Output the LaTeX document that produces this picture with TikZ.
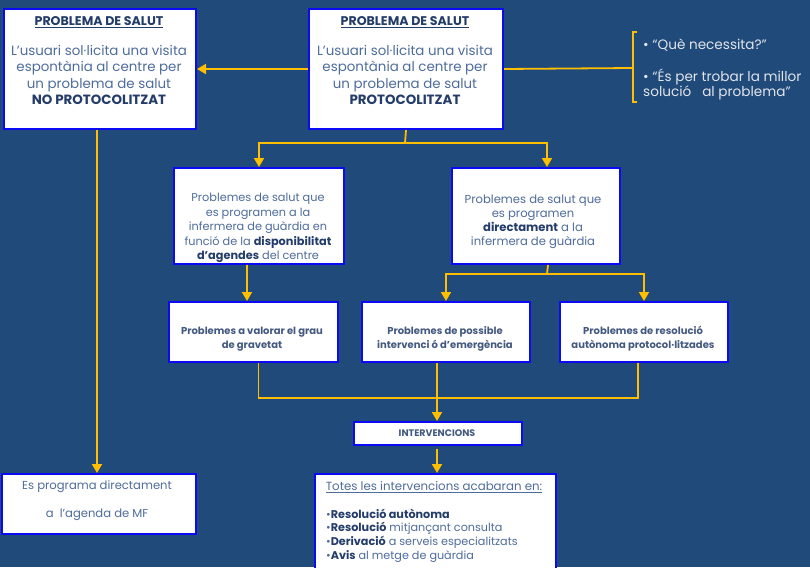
\documentclass[tikz,border=0pt]{standalone}
\usepackage{fontspec}
\setmainfont{Poppins}
\usetikzlibrary{arrows.meta}
\definecolor{bg}{RGB}{32,74,122}
\definecolor{gold}{RGB}{255,190,0}
\definecolor{bord}{RGB}{10,10,245}
\definecolor{txt}{RGB}{78,108,155}
\definecolor{dtxt}{RGB}{35,60,105}
\definecolor{ltxt}{RGB}{225,228,235}
\begin{document}
\begin{tikzpicture}[x=1pt,y=-1pt,
  box/.style={draw=bord, line width=2pt, fill=white, anchor=north west, inner sep=0pt},
  conn/.style={draw=gold, line width=1.8pt},
  arr/.style={conn, -{Triangle[width=10pt,length=9pt]}},
  lbl/.style={text=txt, align=center, inner sep=0pt, font=\fontsize{13.4}{16.5}\selectfont},
  ttl/.style={text=dtxt, align=center, inner sep=0pt, font=\fontsize{12.6}{14}\selectfont\bfseries},
  sml/.style={text=dtxt!85!white, align=center, inner sep=0pt, font=\fontsize{10}{14}\selectfont\bfseries},
  note/.style={text=ltxt, align=left, inner sep=0pt, anchor=west, font=\fontsize{13.6}{15.5}\selectfont}
]
\fill[bg] (0,0) rectangle (810,567);
\useasboundingbox (0,0) rectangle (810,567);

% boxes
\node[box, minimum width=192pt, minimum height=120pt] (b1) at (3,8) {};
\node[box, minimum width=194pt, minimum height=120pt] (b2) at (308,8) {};
\node[box, minimum width=170pt, minimum height=96pt] (b3) at (173,167) {};
\node[box, minimum width=168pt, minimum height=96pt] (b4) at (451,167) {};
\node[box, minimum width=169pt, minimum height=60pt] (b5) at (168,301) {};
\node[box, minimum width=168pt, minimum height=60pt] (b6) at (361,301) {};
\node[box, minimum width=168pt, minimum height=60pt] (b7) at (559,301) {};
\node[box, minimum width=168pt, minimum height=23pt] (b8) at (353,421) {};
\node[box, minimum width=194pt, minimum height=60pt] (b9) at (1,473) {};
\node[box, minimum width=241pt, minimum height=100pt] (b10) at (314,473) {};

% texts
\node[ttl] (t1a) at (99,22) {\underline{PROBLEMA DE SALUT}};
\node[lbl] (t1b) at (99,75) {L’usuari sol·licita una visita\\espontània al centre per\\un problema de salut\\{\color{dtxt}\bfseries NO PROTOCOLITZAT}};
\node[ttl] (t2a) at (405,22) {\underline{PROBLEMA DE SALUT}};
\node[lbl] (t2b) at (405,75) {L’usuari sol·licita una visita\\espontània al centre per\\un problema de salut\\{\color{dtxt}\bfseries PROTOCOLITZAT}};
\node[lbl, font=\fontsize{11.3}{14.5}\selectfont] (t3) at (258,228) {Problemes de salut que\\es programen a la\\infermera de guàrdia en\\funció de la {\color{dtxt}\bfseries disponibilitat}\\{\color{dtxt}\bfseries d’agendes} del centre};
\node[lbl, font=\fontsize{11.6}{14}\selectfont] (t4) at (533,222) {Problemes de salut que\\es programen\\{\color{dtxt}\bfseries directament} a la\\infermera de guàrdia};
\node[sml] (t5) at (252,339) {Problemes a valorar el grau\\de  gravetat};
\node[sml] (t6) at (445,339) {Problemes de possible\\intervenci ó d’emergència};
\node[sml] (t7) at (643,339) {Problemes de resolució\\autònoma  protocol·litzades};
\node[sml, font=\fontsize{9.5}{10}\selectfont\bfseries] (t8) at (437,433) {INTERVENCIONS};
\node[lbl, font=\fontsize{11.6}{28}\selectfont] (t9) at (97,501) {Es programa directament\\a \ l’agenda de MF};
\node[lbl, font=\fontsize{11.8}{13}\selectfont] (t10a) at (434,487) {\underline{Totes les intervencions acabaran en:}};
\node[lbl, align=left, anchor=west, font=\fontsize{11.2}{13.7}\selectfont] (t10b) at (326,535.5) {•{\color{dtxt}\bfseries Resolució autònoma}\\•{\color{dtxt}\bfseries Resolució} mitjançant consulta\\•{\color{dtxt}\bfseries Derivació} a serveis especialitzats\\•{\color{dtxt}\bfseries Avis} al metge de guàrdia};

% notes
\node[note] (n1) at (643,45) {• “Què necessita?”};
\node[note] (n2) at (643,84.5) {• “És per trobar la millor\\solució \ \ al problema”};

% bracket
\coordinate (br) at (633,68);
\draw[conn] (637,32) -- (633,32) -- (633,102) -- (637,102);

% connectors
\draw[arr] (b2.west) -- (b1.east);
\draw[conn] (b2.east) -- (br);
\coordinate (j1) at (405,143);
\draw[conn] (b2.south) -- (j1);
\draw[arr] (j1) -| (b3.north);
\draw[arr] (j1) -| ([xshift=11pt]b4.north);
\draw[arr] ([xshift=-3pt]b1.south) -- ([xshift=-3pt]b1.south |- b9.north);
\draw[arr] ([xshift=-12pt]b3.south) -- ([xshift=-12pt]b3.south |- b5.north);
\coordinate (j2) at (547,274);
\draw[conn] ([xshift=12pt]b4.south) -- (j2);
\draw[arr] (j2) -| (b6.north);
\draw[arr] (j2) -| (b7.north);
\coordinate (j3) at (436,398);
\draw[conn] ([xshift=5pt]b5.south) |- (j3);
\draw[conn] ([xshift=-6pt]b7.south) |- (j3);
\draw[arr] ([xshift=-9pt]b6.south) -- ([xshift=-1pt]b8.north);
\coordinate (j4) at (437,449);
\draw[arr] (j4) -- (j4 |- b10.north);
\end{tikzpicture}
\end{document}
